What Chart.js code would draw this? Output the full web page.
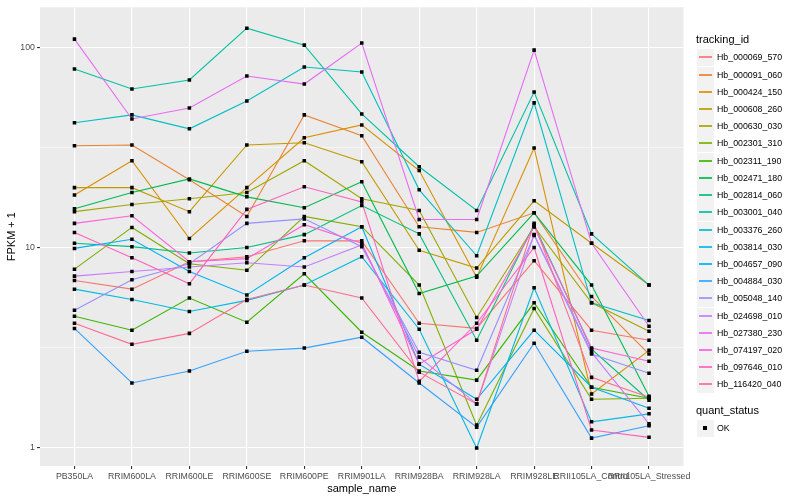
<!DOCTYPE html>
<html>
<head>
<meta charset="utf-8">
<script src="https://cdn.jsdelivr.net/npm/chart.js@4.4.1/dist/chart.umd.min.js"></script>
<style>
    body { margin: 0; background: #ffffff; }
    #wrap { position: relative; width: 800px; height: 500px; font-family: "Liberation Sans", Arial, sans-serif; }
    #grafico { position: absolute; left: 0; top: 0; }
    .titulo { position: absolute; font-size: 11px; color: #000; line-height: 13px; white-space: nowrap; }
    .clave { position: absolute; width: 17px; height: 17px; background: #F2F2F2; }
    .clave i { position: absolute; left: 2px; right: 2px; top: 7px; height: 2px; opacity: 0.85; }
    .clave b { position: absolute; left: 6px; top: 6px; width: 4px; height: 4px; background: #000; }
    .etiqueta { position: absolute; font-size: 8.8px; color: #000; line-height: 10px; white-space: nowrap; }
</style>
</head>
<body>
<div id="wrap">
    <canvas id="grafico" width="800" height="500"></canvas>
    <div id="leyenda"></div>
</div>
<script>
const sampleNames = ['PB350LA', 'RRIM600LA', 'RRIM600LE', 'RRIM600SE', 'RRIM600PE', 'RRIM901LA',
    'RRIM928BA', 'RRIM928LA', 'RRIM928LE', 'RRII105LA_Control', 'RRII105LA_Stressed'];

const trackingIds = ['Hb_000069_570', 'Hb_000091_060', 'Hb_000424_150', 'Hb_000608_260', 'Hb_000630_030',
    'Hb_002301_310', 'Hb_002311_190', 'Hb_002471_180', 'Hb_002814_060', 'Hb_003001_040',
    'Hb_003376_260', 'Hb_003814_030', 'Hb_004657_090', 'Hb_004884_030', 'Hb_005048_140',
    'Hb_024698_010', 'Hb_027380_230', 'Hb_074197_020', 'Hb_097646_010', 'Hb_116420_040'];

const seriesColors = ['#F8766D', '#EA8331', '#D89000', '#C09B00', '#A3A500', '#7CAE00', '#39B600', '#00BB4E',
    '#00BF7D', '#00C1A3', '#00BFC4', '#00BAE0', '#00B0F6', '#35A2FF', '#9590FF', '#C77CFF',
    '#E76BF3', '#FA62DB', '#FF62BC', '#FF6C91'];

// FPKM + 1, one value per sample
const hb000069570 = [6.85, 6.2, 8.5, 9.0, 10.8, 10.8, 4.19, 3.95, 8.6, 3.87, 3.45];
const hb000091060 = [32.2, 32.5, 21.8, 14.3, 45.9, 36.1, 12.7, 11.9, 14.9, 5.7, 2.94];
const hb000424150 = [18.3, 27.1, 11.1, 19.9, 35.3, 40.9, 24.2, 7.1, 31.4, 1.86, 3.07];
const hb000608260 = [19.9, 19.9, 15.1, 32.5, 33.3, 26.8, 9.7, 7.9, 17.1, 10.5, 6.5];
const hb000630030 = [15.1, 16.4, 17.5, 18.8, 27.1, 17.5, 15.3, 4.48, 12.7, 5.3, 3.82];
const hb002301310 = [7.8, 12.6, 8.3, 7.7, 14.3, 12.7, 6.5, 1.30, 4.97, 1.75, 1.77];
const hb002311190 = [4.54, 3.87, 5.6, 4.24, 7.4, 3.78, 2.42, 2.18, 5.3, 2.01, 1.77];
const hb002471180 = [15.6, 18.8, 22.0, 17.9, 15.8, 21.3, 5.9, 7.2, 14.9, 6.5, 1.81];
const hb002814060 = [10.5, 10.1, 9.4, 10.0, 11.6, 16.2, 11.7, 3.45, 13.0, 3.11, 1.73];
const hb003001040 = [77.7, 61.8, 68.5, 124.3, 102.3, 46.4, 25.3, 15.3, 59.7, 11.7, 6.5];
const hb003376260 = [41.9, 45.9, 39.1, 53.9, 79.5, 75.1, 19.4, 9.1, 52.7, 5.3, 4.33];
const hb003814030 = [6.2, 5.5, 4.8, 5.45, 6.5, 9.0, 3.91, 1.0, 6.3, 1.35, 1.48];
const hb004657090 = [9.9, 11.0, 7.6, 5.8, 8.9, 12.7, 2.62, 1.75, 3.87, 2.01, 1.58];
const hb004884030 = [3.95, 2.11, 2.42, 3.04, 3.15, 3.57, 2.11, 1.27, 3.33, 1.12, 1.29];
const hb005048140 = [4.86, 6.9, 8.3, 13.2, 13.9, 10.1, 3.0, 2.44, 11.5, 2.94, 2.36];
const hb024698010 = [7.2, 7.6, 8.0, 8.4, 8.0, 10.3, 2.84, 1.66, 11.6, 3.0, 1.32];
const hb027380230 = [109.6, 43.8, 49.7, 71.7, 65.4, 104.7, 13.8, 13.8, 96.6, 10.5, 4.05];
const hb074197020 = [13.2, 14.4, 8.5, 8.8, 13.0, 10.5, 2.62, 3.91, 12.7, 3.15, 2.71];
const hb097646010 = [11.9, 8.9, 6.6, 15.5, 20.1, 16.9, 2.15, 4.19, 10.0, 1.23, 1.13];
const hb116420040 = [4.19, 3.29, 3.73, 5.5, 6.5, 5.6, 2.39, 1.66, 13.2, 2.25, 1.79];

const seriesValues = [hb000069570, hb000091060, hb000424150, hb000608260, hb000630030,
    hb002301310, hb002311190, hb002471180, hb002814060, hb003001040,
    hb003376260, hb003814030, hb004657090, hb004884030, hb005048140,
    hb024698010, hb027380230, hb074197020, hb097646010, hb116420040];

const yTickValues = [1, Math.sqrt(10), 10, Math.sqrt(1000), 100];
const yTickLabels = ['1', '', '10', '', '100'];

const fuente = '"Liberation Sans", Arial, sans-serif';
const esMayor = (v) => Math.abs(Math.log10(v) - Math.round(Math.log10(v))) < 0.01;

// gray ggplot panel
const fondoPanel = {
    id: 'fondoPanel',
    beforeDraw(chart) {
        const { ctx, chartArea: a } = chart;
        ctx.save();
        ctx.fillStyle = '#EBEBEB';
        ctx.fillRect(a.left, a.top, a.right - a.left, a.bottom - a.top);
        ctx.restore();
    }
};

const lineas = seriesValues.map((vals, i) => ({
    label: trackingIds[i],
    data: vals.map((v, j) => ({ x: j, y: v })),
    borderColor: seriesColors[i],
    backgroundColor: seriesColors[i],
    borderWidth: 1.1,
    pointRadius: 0,
    tension: 0,
    order: seriesValues.length - i
}));

const puntos = {
    label: 'OK',
    data: seriesValues.flatMap(vals => vals.map((v, j) => ({ x: j, y: v }))),
    showLine: false,
    pointStyle: 'rect',
    pointRadius: 2.5,
    pointBackgroundColor: '#000000',
    pointBorderWidth: 0,
    order: 0
};

new Chart(document.getElementById('grafico').getContext('2d'), {
    type: 'line',
    data: { datasets: [puntos, ...lineas] },
    plugins: [fondoPanel],
    options: {
        responsive: false,
        animation: false,
        events: [],
        layout: { padding: { top: 5, right: 116.5, left: 0, bottom: 0 } },
        plugins: { legend: { display: false }, tooltip: { enabled: false } },
        scales: {
            x: {
                type: 'linear',
                min: -0.6,
                max: 10.6,
                afterBuildTicks: (s) => { s.ticks = sampleNames.map((_, j) => ({ value: j })); },
                afterFit: (s) => { s.height = 34; },
                ticks: {
                    autoSkip: false, maxRotation: 0, minRotation: 0, padding: 2,
                    color: '#4D4D4D', font: { size: 8.8, family: fuente },
                    callback: (v) => sampleNames[v]
                },
                grid: { color: '#ffffff', lineWidth: 1.1, tickColor: '#333333', tickLength: 3 },
                border: { display: false },
                title: {
                    display: true, text: 'sample_name', color: '#000',
                    font: { size: 11, family: fuente }, padding: { top: 0, bottom: 4.4 }
                }
            },
            y: {
                type: 'logarithmic',
                min: 0.813,
                max: 158,
                afterBuildTicks: (s) => { s.ticks = yTickValues.map(v => ({ value: v })); },
                afterFit: (s) => { s.width = 40; },
                ticks: {
                    padding: 2, color: '#4D4D4D', font: { size: 8.8, family: fuente },
                    callback: (v) => yTickLabels[yTickValues.findIndex(t => Math.abs(t - v) < 1e-6)] ?? ''
                },
                grid: {
                    color: '#ffffff',
                    lineWidth: (c) => (c.tick && esMayor(c.tick.value)) ? 1.1 : 0.55,
                    tickColor: (c) => (c.tick && esMayor(c.tick.value)) ? '#333333' : 'rgba(0,0,0,0)',
                    tickLength: 3
                },
                border: { display: false },
                title: {
                    display: true, text: 'FPKM + 1', color: '#000',
                    font: { size: 11, family: fuente }, padding: { top: 5, bottom: 0 }
                }
            }
        }
    }
});

// legend on the right, ggplot style
const leyenda = document.getElementById('leyenda');
let html = '<div class="titulo" style="left:696px;top:33px">tracking_id</div>';
trackingIds.forEach((id, i) => {
    const cy = Math.round(57.3 + i * 17.22);
    html += `<div class="clave" style="left:697px;top:${cy - 8}px"><i style="background:${seriesColors[i]}"></i></div>`;
    html += `<div class="etiqueta" style="left:717px;top:${cy - 5}px">${id}</div>`;
});
html += '<div class="titulo" style="left:696px;top:404px">quant_status</div>';
html += '<div class="clave" style="left:697px;top:420px"><b></b></div>';
html += '<div class="etiqueta" style="left:717px;top:423px">OK</div>';
leyenda.innerHTML = html;
</script>
</body>
</html>
